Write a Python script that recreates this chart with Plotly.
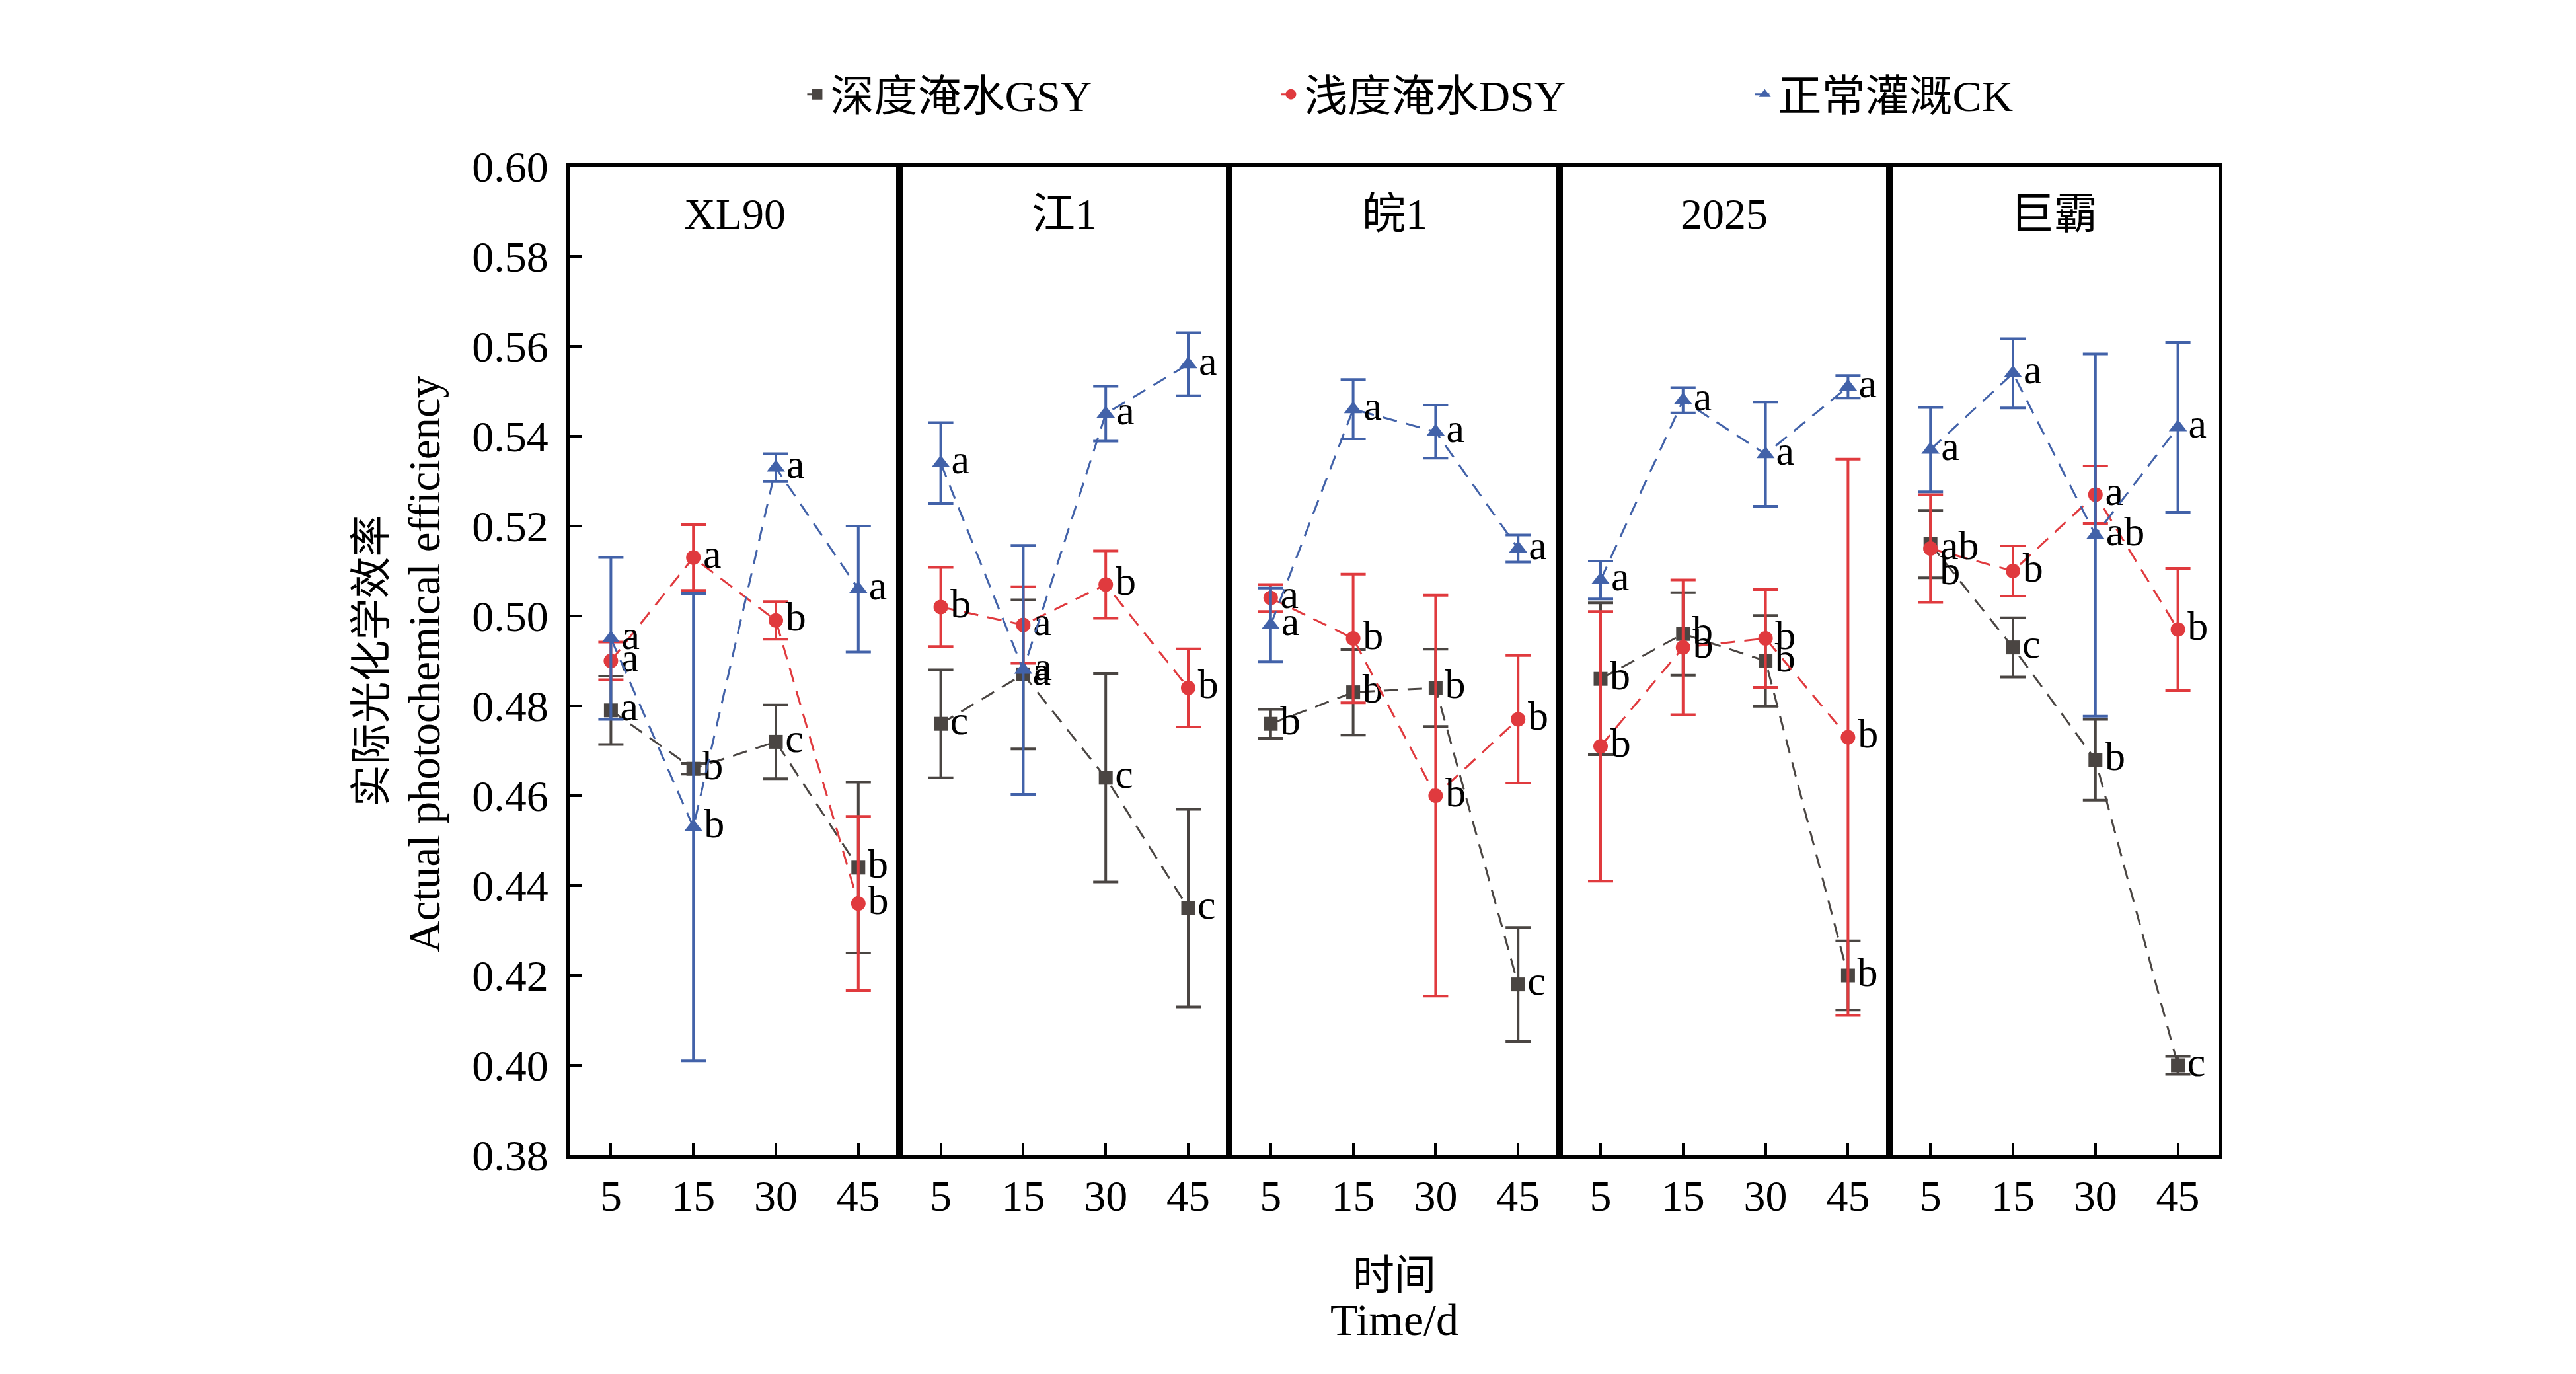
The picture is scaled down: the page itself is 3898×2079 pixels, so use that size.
import plotly.graph_objects as go
from plotly.subplots import make_subplots

varieties = ["XL90", "江1", "皖1", "2025", "巨霸"]
days = ["5", "15", "30", "45"]

# 5 panels x 4 days, in panel order
gsy_mean = [0.479, 0.466, 0.472, 0.444,
            0.476, 0.487, 0.464, 0.435,
            0.476, 0.483, 0.484, 0.418,
            0.486, 0.496, 0.490, 0.420,
            0.516, 0.493, 0.468, 0.400]
gsy_sd = [0.0076, 0.0012, 0.0082, 0.019,
          0.012, 0.0166, 0.0232, 0.022,
          0.0032, 0.0095, 0.0086, 0.0127,
          0.0169, 0.0092, 0.0101, 0.0077,
          0.0075, 0.0066, 0.009, 0.002]
gsy_sig = ["a", "b", "c", "b", "c", "a", "c", "c", "b", "b", "b", "c",
           "b", "b", "b", "b", "b", "c", "b", "c"]

dsy_mean = [0.490, 0.513, 0.499, 0.436,
            0.502, 0.498, 0.507, 0.484,
            0.504, 0.495, 0.460, 0.477,
            0.471, 0.493, 0.495, 0.473,
            0.515, 0.510, 0.527, 0.497]
dsy_sd = [0.0042, 0.0073, 0.0042, 0.0194,
          0.0088, 0.0085, 0.0075, 0.0087,
          0.003, 0.0143, 0.0446, 0.0142,
          0.030, 0.015, 0.0109, 0.0619,
          0.012, 0.0056, 0.0064, 0.0136]
dsy_sig = ["a", "a", "b", "b", "b", "a", "b", "b", "a", "b", "b", "b",
           "b", "b", "b", "b", "ab", "b", "a", "b"]

ck_mean = [0.495, 0.453, 0.533, 0.506,
           0.534, 0.488, 0.545, 0.556,
           0.498, 0.546, 0.541, 0.515,
           0.508, 0.548, 0.536, 0.551,
           0.537, 0.554, 0.518, 0.542]
ck_sd = [0.018, 0.052, 0.0031, 0.014,
         0.009, 0.0277, 0.0061, 0.007,
         0.0082, 0.0066, 0.0059, 0.003,
         0.0042, 0.0028, 0.0116, 0.0025,
         0.0094, 0.0077, 0.0403, 0.0189]
ck_sig = ["a", "b", "a", "a", "a", "a", "a", "a", "a", "a", "a", "a",
          "a", "a", "a", "a", "a", "a", "ab", "a"]

series = [
    ("深度淹水GSY", gsy_mean, gsy_sd, gsy_sig, "#4a4542", "square", 21),
    ("浅度淹水DSY", dsy_mean, dsy_sd, dsy_sig, "#e03a3e", "circle", 22),
    ("正常灌溉CK", ck_mean, ck_sd, ck_sig, "#4262a9", "triangle-up", 24),
]

# letters that sit below their marker to avoid clashing (series index, point index)
label_below = {(0, 16)}

FONT = "Liberation Serif, Noto Sans CJK SC"
FS = 66

fig = make_subplots(rows=1, cols=5, shared_yaxes=True, horizontal_spacing=0)

for p in range(5):
    for k, (name, mean, sd, sig, color, symbol, msize) in enumerate(series):
        s = slice(p * 4, p * 4 + 4)
        pos = ["bottom right" if (k, p * 4 + j) in label_below else "middle right"
               for j in range(4)]
        fig.add_trace(go.Scatter(
            x=days, y=mean[s],
            name=name,
            legendgroup=name,
            showlegend=(p == 0),
            mode="lines+markers+text",
            line=dict(color=color, width=3, dash="22px,14px"),
            marker=dict(color=color, symbol=symbol, size=msize),
            error_y=dict(type="data", array=sd[s], color=color, thickness=4, width=19),
            text=sig[s],
            textposition=pos,
            textfont=dict(family=FONT, size=62, color="black"),
            cliponaxis=False,
        ), row=1, col=p + 1)

for i in range(1, 6):
    fig.update_xaxes(
        type="category", range=[-0.5, 3.5],
        showline=True, linecolor="black", linewidth=5, mirror=True,
        ticks="inside", ticklen=18, tickwidth=4, tickcolor="black",
        tickfont=dict(family=FONT, size=FS, color="black"),
        showgrid=False, zeroline=False,
        row=1, col=i)
    fig.update_yaxes(
        range=[0.38, 0.60], dtick=0.02, tickformat=".2f",
        showline=True, linecolor="black", linewidth=5, mirror=True,
        ticks="inside" if i == 1 else "", ticklen=18, tickwidth=4, tickcolor="black",
        tickfont=dict(family=FONT, size=FS, color="black"),
        ticklabelstandoff=14,
        showgrid=False, zeroline=False,
        row=1, col=i)

annotations = []
for i, v in enumerate(varieties):
    annotations.append(dict(
        text=v, xref="x domain" if i == 0 else f"x{i + 1} domain", yref="paper",
        x=0.5, y=0.952, xanchor="center", yanchor="middle", showarrow=False,
        font=dict(family=FONT, size=FS, color="black")))

# axis titles, one annotation per line
annotations.append(dict(
    text="实际光化学效率", xref="paper", yref="paper", x=-0.120, y=0.5,
    xanchor="center", yanchor="middle", textangle=-90, showarrow=False,
    font=dict(family=FONT, size=63, color="black")))
annotations.append(dict(
    text="Actual photochemical efficiency", xref="paper", yref="paper", x=-0.088, y=0.497,
    xanchor="center", yanchor="middle", textangle=-90, showarrow=False,
    font=dict(family=FONT, size=67, color="black")))
annotations.append(dict(
    text="时间", xref="paper", yref="paper", x=0.5, y=-0.1217,
    xanchor="center", yanchor="middle", showarrow=False,
    font=dict(family=FONT, size=63, color="black")))
annotations.append(dict(
    text="Time/d", xref="paper", yref="paper", x=0.5, y=-0.1664,
    xanchor="center", yanchor="middle", showarrow=False,
    font=dict(family=FONT, size=68, color="black")))

fig.update_layout(
    width=3882, height=2063,
    margin=dict(l=854, r=532, t=244, b=323),
    plot_bgcolor="white", paper_bgcolor="white",
    annotations=annotations,
    legend=dict(orientation="h", x=0.142, y=1.073, xanchor="left", yanchor="middle",
                entrywidth=672, entrywidthmode="pixels",
                font=dict(family=FONT, size=FS, color="black")),
)

fig.write_html("out.html")
